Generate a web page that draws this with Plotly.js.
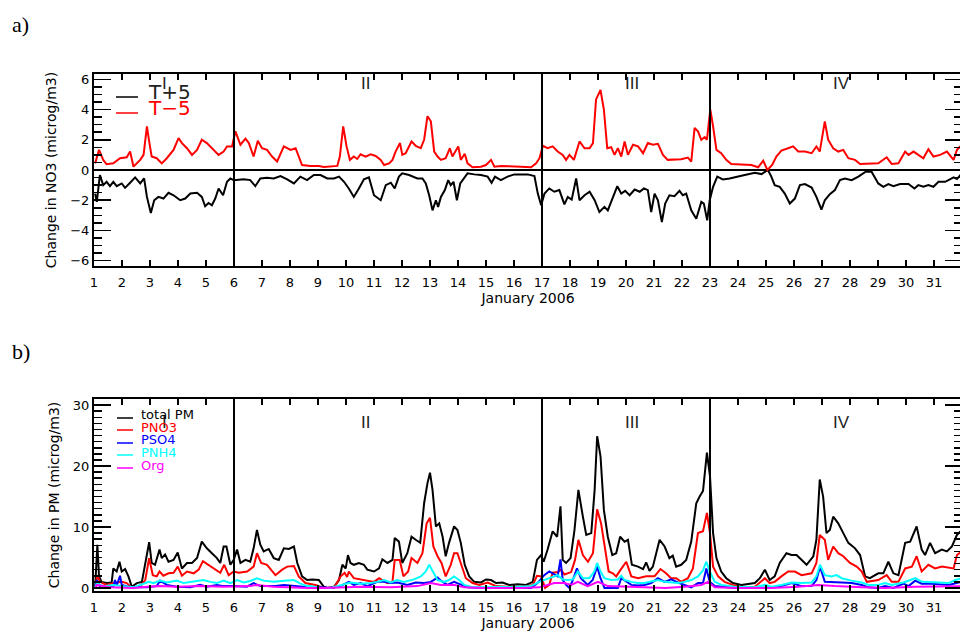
<!DOCTYPE html>
<html>
<head>
<meta charset="utf-8">
<script src="https://cdn.plot.ly/plotly-3.0.1.min.js"></script>
<style>
  html, body { margin: 0; padding: 0; background: #ffffff; overflow: hidden; }
  #chart { width: 964px; height: 631px; }
</style>
</head>
<body>
<div id="chart"></div>
<script>
// ---------- tick labels / categories ----------
const dayTicks = [1,2,3,4,5,6,7,8,9,10,11,12,13,14,15,16,17,18,19,20,21,22,23,24,25,26,27,28,29,30,31,32];
const dayLabels = ['1','2','3','4','5','6','7','8','9','10','11','12','13','14','15','16','17','18','19','20','21','22','23','24','25','26','27','28','29','30','31','1'];
const sectionBounds = [6, 17, 23];
const sectionNames = ['I', 'II', 'III', 'IV'];
const sectionLabelDays = [3.53, 10.7, 20.2, 27.7];

// ---------- panel a: change in NO3 ----------
const tPlusDays = [
  1.04,1.10,1.21,1.33,1.45,1.57,1.69,1.81,1.99,2.11,
  2.29,2.47,2.65,2.79,2.89,3.03,3.15,3.30,3.48,3.66,
  3.84,4.08,4.26,4.44,4.68,4.85,4.97,5.09,5.21,5.33,
  5.45,5.61,5.75,5.87,5.99,6.35,6.58,6.76,6.94,7.18,
  7.42,7.66,7.90,8.14,8.37,8.61,8.85,9.09,9.33,9.57,
  9.75,9.93,10.10,10.28,10.46,10.64,10.82,11.00,11.24,11.42,
  11.60,11.74,11.89,12.01,12.25,12.55,12.73,12.85,12.97,13.09,
  13.21,13.29,13.39,13.53,13.65,13.74,13.84,13.96,14.08,14.22,
  14.34,14.58,14.82,15.06,15.20,15.32,15.53,15.77,16.01,16.49,
  16.73,16.85,16.97,17.09,17.26,17.44,17.62,17.80,17.92,18.06,
  18.22,18.34,18.52,18.70,18.88,19.05,19.23,19.35,19.53,19.69,
  19.83,19.97,20.13,20.31,20.49,20.64,20.78,20.90,21.02,21.14,
  21.28,21.40,21.55,21.73,21.91,22.03,22.15,22.33,22.51,22.69,
  22.78,22.90,22.99,23.11,23.26,23.46,23.70,23.94,24.24,24.60,
  24.84,25.07,25.19,25.31,25.49,25.67,25.85,26.03,26.21,26.39,
  26.63,26.80,26.98,27.10,27.28,27.46,27.64,27.82,28.06,28.30,
  28.56,28.77,29.01,29.19,29.37,29.55,29.79,30.09,30.30,30.44,
  30.62,30.80,30.98,31.16,31.40,31.70,31.82,32.00
];
const tPlusNO3 = [
  -1.56,-2.11,-0.33,-1.00,-0.78,-1.07,-0.78,-1.07,-0.89,-1.18,
  -0.84,-0.49,-0.89,-0.56,-1.78,-2.84,-2.00,-1.78,-1.89,-1.51,
  -1.67,-2.00,-1.89,-1.56,-1.51,-1.78,-2.40,-2.18,-2.33,-1.89,
  -1.22,-1.67,-0.78,-0.56,-0.67,-0.62,-0.67,-1.07,-0.56,-0.51,
  -0.56,-0.40,-0.62,-0.89,-0.44,-0.67,-0.33,-0.33,-0.56,-0.56,
  -0.44,-0.78,-1.22,-1.78,-1.22,-0.62,-0.49,-1.67,-2.00,-1.00,
  -0.84,-1.22,-0.44,-0.22,-0.33,-0.56,-0.56,-0.89,-1.67,-2.67,
  -2.00,-2.44,-1.78,-1.33,-0.67,-1.00,-0.78,-2.00,-0.89,-0.56,
  -0.22,-0.29,-0.33,-0.44,-0.84,-0.44,-0.67,-0.44,-0.29,-0.29,
  -0.40,-1.56,-2.33,-1.56,-1.22,-1.44,-1.33,-2.27,-1.78,-1.96,
  -0.56,-2.00,-1.67,-1.44,-2.00,-2.78,-2.44,-2.67,-1.89,-1.07,
  -1.56,-1.38,-1.67,-1.29,-1.44,-1.22,-1.33,-2.78,-1.56,-2.00,
  -3.44,-2.22,-1.67,-1.73,-1.38,-1.67,-1.56,-2.67,-3.22,-2.11,
  -2.22,-3.33,-2.00,-1.11,-0.44,-0.62,-0.56,-0.44,-0.33,-0.18,
  -0.27,0.00,-0.44,-1.00,-1.11,-1.56,-2.22,-1.89,-1.00,-0.93,
  -1.16,-1.78,-2.62,-2.00,-1.60,-1.33,-0.67,-0.56,-0.67,-0.44,
  -0.11,-0.11,-0.89,-1.11,-0.93,-1.07,-0.93,-0.93,-1.22,-1.00,
  -1.11,-1.00,-1.11,-0.78,-0.78,-0.49,-0.60,-0.22
];

const tMinusDays = [
  1.04,1.18,1.33,1.45,1.69,1.93,2.17,2.29,2.41,2.65,
  2.77,2.89,2.97,3.06,3.24,3.42,3.60,3.84,4.02,4.14,
  4.32,4.50,4.68,4.85,5.03,5.27,5.45,5.63,5.75,5.93,
  6.05,6.23,6.41,6.53,6.70,6.85,7.00,7.18,7.36,7.54,
  7.78,8.02,8.20,8.43,8.73,9.03,9.21,9.69,9.78,9.90,
  10.02,10.14,10.28,10.40,10.52,10.70,10.88,11.06,11.24,11.36,
  11.54,11.66,11.77,11.93,12.01,12.13,12.34,12.49,12.67,12.79,
  12.91,13.03,13.15,13.27,13.39,13.56,13.71,13.80,13.89,14.01,
  14.10,14.24,14.34,14.52,14.82,15.00,15.18,15.30,15.53,15.89,
  16.25,16.61,16.79,16.91,17.03,17.20,17.38,17.56,17.74,17.86,
  17.98,18.14,18.34,18.52,18.70,18.82,18.93,19.09,19.21,19.33,
  19.47,19.59,19.71,19.83,19.95,20.07,20.25,20.43,20.61,20.78,
  20.96,21.14,21.32,21.49,21.97,22.21,22.33,22.45,22.57,22.69,
  22.81,22.89,23.01,23.11,23.23,23.40,23.58,23.76,24.12,24.48,
  24.72,24.90,25.05,25.22,25.37,25.55,25.79,25.97,26.15,26.39,
  26.63,26.80,26.92,27.10,27.22,27.40,27.58,27.76,27.94,28.18,
  28.36,28.65,29.01,29.31,29.49,29.73,29.97,30.09,30.27,30.44,
  30.62,30.80,30.98,31.22,31.46,31.70,31.82,32.00
];
const tMinusNO3 = [
  0.44,1.33,0.67,0.38,0.44,0.78,0.84,1.22,0.22,0.67,
  1.00,2.89,1.89,0.89,0.78,0.44,0.78,1.33,2.11,1.78,
  1.44,1.00,1.33,2.00,1.78,1.33,1.00,1.22,1.56,1.56,
  2.56,1.67,2.07,1.78,0.89,1.93,1.44,1.33,0.89,0.56,
  1.56,1.33,1.44,0.33,0.27,0.27,0.20,0.27,0.89,2.89,
  1.56,0.67,0.89,0.73,1.04,0.89,1.04,0.93,0.67,0.33,
  0.44,0.67,1.22,1.78,1.00,1.11,1.89,1.60,1.44,2.00,
  3.56,3.22,1.22,0.89,0.67,0.78,1.44,0.89,1.22,1.56,
  0.67,1.07,0.44,0.18,0.22,0.33,0.67,0.22,0.27,0.22,
  0.22,0.18,0.44,0.78,1.60,1.44,1.56,1.22,1.00,0.67,
  1.00,0.67,1.89,1.44,1.44,1.78,4.67,5.29,4.00,1.44,
  1.51,1.00,1.44,0.89,1.89,1.00,1.67,1.56,1.11,1.78,
  1.67,1.73,1.00,0.67,0.71,0.82,0.56,2.78,2.56,2.00,
  2.18,2.00,4.00,2.89,1.33,1.11,0.67,0.40,0.38,0.33,
  0.18,0.62,0.00,0.33,0.89,1.29,1.44,1.56,1.22,1.22,
  1.11,1.56,1.22,3.22,2.00,1.44,1.22,1.33,0.78,0.67,
  0.40,0.40,0.44,0.84,0.40,0.44,1.22,1.00,1.22,1.00,
  0.78,1.38,0.89,1.00,1.22,0.67,1.33,1.67
];

// ---------- panel b: change in PM ----------
const totalDays = [
  1.04,1.12,1.18,1.27,1.45,1.63,1.69,1.81,1.91,1.99,
  2.11,2.23,2.35,2.53,2.71,2.83,2.97,3.06,3.18,3.34,
  3.42,3.54,3.66,3.84,3.99,4.14,4.32,4.50,4.68,4.85,
  5.03,5.21,5.39,5.51,5.63,5.73,5.87,5.99,6.11,6.23,
  6.41,6.58,6.70,6.82,6.94,7.06,7.24,7.42,7.60,7.78,
  7.96,8.14,8.26,8.43,8.61,8.79,9.03,9.21,9.33,9.57,
  9.75,9.87,9.99,10.07,10.16,10.28,10.46,10.64,10.76,11.00,
  11.18,11.30,11.48,11.66,11.74,11.89,12.01,12.19,12.34,12.49,
  12.65,12.79,12.91,13.00,13.09,13.21,13.33,13.45,13.56,13.68,
  13.86,13.98,14.10,14.24,14.40,14.58,14.82,15.00,15.18,15.36,
  15.59,15.83,16.13,16.43,16.67,16.82,16.97,17.06,17.20,17.38,
  17.54,17.66,17.74,17.86,18.02,18.16,18.30,18.46,18.58,18.76,
  18.88,18.97,19.09,19.21,19.35,19.51,19.65,19.79,19.95,20.07,
  20.21,20.43,20.61,20.72,20.84,20.96,21.20,21.38,21.55,21.67,
  21.79,21.97,22.15,22.33,22.51,22.63,22.75,22.89,23.00,23.11,
  23.23,23.40,23.58,23.82,24.12,24.60,24.78,24.96,25.13,25.31,
  25.49,25.73,25.91,26.09,26.27,26.45,26.69,26.80,26.92,27.04,
  27.16,27.28,27.40,27.58,27.76,27.94,28.18,28.36,28.54,28.71,
  29.01,29.19,29.37,29.55,29.73,29.97,30.15,30.38,30.56,30.68,
  30.86,31.04,31.28,31.46,31.64,31.82,32.00
];
const totalPM = [
  0.0,7.1,1.9,1.0,0.8,0.9,3.2,2.7,4.3,2.7,
  3.1,1.9,0.2,0.8,1.0,4.1,7.5,4.1,3.8,6.3,
  4.9,5.5,4.3,4.6,5.8,3.2,4.1,4.1,4.9,7.6,
  6.5,5.7,4.9,4.1,6.8,6.8,3.8,4.6,6.3,4.1,
  4.6,4.3,6.5,9.5,7.1,6.0,6.4,4.9,4.6,6.5,
  6.4,6.8,4.1,1.9,1.3,1.4,1.3,0.2,0.0,0.2,
  1.3,3.8,3.2,5.4,4.1,3.8,4.1,3.8,3.0,2.7,
  3.2,4.7,4.1,4.6,8.2,7.6,4.1,5.7,8.4,7.9,
  7.4,13.9,17.2,18.9,16.1,10.1,10.6,8.4,5.2,7.4,
  10.1,9.5,7.4,3.8,1.9,1.0,0.9,1.4,1.3,0.8,
  0.9,0.5,0.6,0.5,1.0,4.6,5.4,4.3,6.3,9.3,
  8.4,13.4,4.6,4.1,4.9,9.5,16.1,11.7,8.7,9.0,
  16.1,24.9,21.6,12.8,8.4,5.4,5.7,8.4,7.6,7.9,
  3.8,3.5,3.1,4.2,2.8,3.5,7.9,6.8,4.9,5.3,
  3.5,3.8,4.6,7.6,13.9,15.0,15.9,22.2,18.3,9.0,
  4.9,2.7,1.6,0.8,0.5,0.8,1.6,3.0,1.3,1.9,
  4.1,5.7,5.4,5.4,4.6,3.8,5.2,7.9,17.8,15.0,
  9.0,9.5,11.7,10.6,9.0,7.4,6.5,5.4,1.9,1.6,
  2.4,2.4,4.3,2.4,2.1,7.4,7.6,10.1,6.3,5.4,
  7.4,5.7,6.3,6.0,6.8,8.7,9.5
];

const pno3Days = [
  1.04,1.12,1.21,1.45,1.69,1.99,2.17,2.35,2.65,2.83,
  2.97,3.10,3.24,3.34,3.48,3.66,3.84,3.99,4.14,4.32,
  4.56,4.74,4.89,5.09,5.33,5.51,5.65,5.81,5.99,6.17,
  6.47,6.70,6.82,6.97,7.18,7.48,7.72,7.90,8.14,8.31,
  8.55,8.91,9.21,9.57,9.81,9.95,10.04,10.10,10.28,10.64,
  11.00,11.18,11.48,11.66,11.74,11.92,12.05,12.22,12.34,12.55,
  12.73,12.88,13.00,13.12,13.27,13.41,13.56,13.74,13.86,13.98,
  14.13,14.28,14.52,14.76,15.06,15.36,15.77,16.25,16.67,16.82,
  16.97,17.11,17.26,17.38,17.56,17.68,17.80,18.04,18.18,18.30,
  18.46,18.64,18.82,18.97,19.11,19.23,19.38,19.53,19.65,19.81,
  20.01,20.19,20.43,20.72,21.02,21.23,21.43,21.61,21.79,21.97,
  22.21,22.39,22.57,22.75,22.89,23.00,23.11,23.29,23.52,23.82,
  24.12,24.60,24.96,25.13,25.31,25.55,25.79,26.03,26.27,26.63,
  26.80,26.92,27.10,27.22,27.40,27.58,27.76,28.00,28.24,28.42,
  28.60,29.01,29.31,29.49,29.73,29.97,30.21,30.38,30.56,30.80,
  31.04,31.28,31.70,31.82,32.00
];
const pno3 = [
  0.0,2.1,1.0,0.5,0.8,1.0,0.8,0.0,0.3,1.3,
  4.9,2.1,1.9,2.7,2.0,2.4,2.5,3.5,2.0,2.7,
  2.4,3.0,4.4,3.8,3.0,2.5,3.8,2.1,2.7,2.5,
  2.7,3.5,5.7,4.1,3.8,2.1,3.0,3.5,3.6,1.9,
  0.8,0.5,0.0,0.0,1.9,2.5,1.8,2.7,1.6,1.3,
  1.0,1.6,0.8,1.0,4.6,4.6,1.9,2.7,4.9,4.1,
  5.7,10.6,11.5,6.8,5.2,4.1,1.9,3.8,5.7,5.7,
  3.8,1.6,0.8,0.5,0.9,0.3,0.2,0.1,0.5,2.0,
  1.9,0.0,0.5,2.5,2.6,3.0,2.2,2.6,4.6,7.9,
  5.4,4.3,5.7,12.9,10.6,6.8,2.7,2.4,1.9,3.0,
  4.3,1.9,1.6,1.9,1.9,3.1,2.4,1.6,1.6,1.0,
  1.6,3.2,9.0,9.3,12.3,9.0,3.5,1.9,1.0,0.5,
  0.1,0.2,1.6,0.8,1.0,1.9,2.7,2.7,2.1,2.4,
  4.1,8.7,7.9,4.6,6.8,5.7,5.2,4.1,3.5,2.7,
  1.0,1.3,2.1,1.0,1.0,3.2,3.5,5.2,2.7,3.8,
  3.2,3.5,3.2,5.4,6.0
];

const pso4Days = [
  1.04,1.10,1.20,1.45,1.69,1.75,1.81,1.93,1.99,2.17,
  2.41,2.89,3.24,3.36,3.48,3.60,3.96,4.44,4.79,5.03,
  5.39,5.63,5.99,6.46,6.70,6.94,7.42,7.78,8.26,8.61,
  9.09,9.45,9.80,10.10,10.28,10.52,10.76,11.12,11.36,11.60,
  11.83,12.19,12.49,12.79,13.03,13.27,13.39,13.62,13.86,14.10,
  14.34,14.90,15.53,16.25,16.60,16.84,17.08,17.26,17.44,17.56,
  17.66,17.74,17.86,17.98,18.10,18.25,18.39,18.63,18.81,18.97,
  19.09,19.23,19.47,19.71,19.83,20.01,20.19,20.43,20.66,20.90,
  21.14,21.38,21.61,21.85,22.09,22.33,22.57,22.75,22.87,22.99,
  23.17,23.53,23.88,24.60,24.96,25.20,25.55,25.91,26.27,26.63,
  26.80,26.93,27.10,27.34,27.70,28.06,28.42,28.66,29.01,29.25,
  29.55,29.91,30.09,30.33,30.56,30.92,31.52,32.00
];
const pso4 = [
  0.2,1.3,0.3,0.2,0.2,1.3,0.4,2.0,0.5,0.3,
  0.1,0.1,0.3,1.2,0.9,0.5,0.2,0.1,0.5,0.2,
  0.5,0.3,0.3,0.2,0.8,0.3,0.3,0.5,0.3,0.1,
  0.1,0.0,0.3,1.0,0.5,0.8,0.3,1.0,1.0,0.8,
  0.9,0.5,0.9,0.8,1.0,1.7,1.2,0.5,1.0,0.5,
  0.1,0.0,0.0,0.0,0.0,0.8,2.1,2.7,2.3,1.9,
  4.7,1.3,0.5,0.0,1.3,3.2,1.6,0.5,1.3,3.5,
  1.6,0.0,0.0,0.0,1.6,1.0,0.5,0.4,0.5,0.8,
  1.6,1.0,1.4,0.9,0.5,0.1,0.8,0.8,3.2,1.0,
  0.3,0.1,0.0,0.0,0.0,0.1,0.3,0.8,0.3,0.3,
  1.3,3.5,1.0,1.0,0.9,0.8,0.5,0.1,0.0,0.3,
  0.0,0.7,0.3,1.2,0.7,0.7,0.5,1.0
];

const pnh4Days = [
  1.04,1.10,1.33,1.69,2.05,2.41,2.77,2.95,3.12,3.36,
  3.60,3.96,4.20,4.44,4.79,4.91,5.15,5.39,5.63,5.87,
  6.11,6.35,6.58,6.82,7.06,7.42,7.78,8.14,8.37,8.61,
  8.73,9.09,9.45,9.80,10.16,10.52,10.88,11.12,11.36,11.60,
  11.83,12.07,12.43,12.67,12.85,12.97,13.09,13.27,13.50,13.68,
  13.86,14.04,14.22,14.46,14.94,15.53,16.01,16.60,16.90,17.08,
  17.32,17.56,17.74,17.92,18.10,18.28,18.46,18.69,18.87,18.97,
  19.09,19.23,19.47,19.71,19.83,19.95,20.19,20.42,20.66,20.90,
  21.14,21.38,21.62,21.86,22.09,22.33,22.57,22.75,22.87,22.99,
  23.17,23.41,23.88,24.60,24.96,25.20,25.55,25.91,26.27,26.63,
  26.80,26.93,27.10,27.34,27.52,27.70,28.06,28.42,28.66,29.01,
  29.25,29.49,29.91,30.09,30.33,30.57,30.80,31.16,31.52,31.76,
  32.00
];
const pnh4 = [
  0.0,0.8,0.3,0.5,0.3,0.1,0.7,1.0,0.8,1.2,
  0.9,1.2,0.8,1.0,1.2,1.3,1.0,0.8,1.2,0.8,
  1.3,0.9,1.15,1.6,1.2,1.0,1.2,1.3,0.7,0.3,
  0.3,0.0,0.0,0.5,0.9,0.7,0.8,1.0,1.3,0.9,
  1.3,1.0,1.4,1.9,2.7,3.8,2.7,1.3,1.0,1.3,
  1.9,1.3,0.5,0.2,0.1,0.2,0.1,0.3,1.0,1.3,
  1.6,2.1,1.4,1.3,1.4,2.7,1.6,1.6,2.7,4.1,
  2.7,1.6,1.3,1.4,2.0,1.3,1.0,0.8,0.8,1.0,
  1.3,1.0,0.9,0.8,1.0,1.3,1.9,2.9,4.3,2.7,
  1.0,0.5,0.2,0.1,0.5,0.2,0.5,0.9,0.8,0.9,
  1.9,3.8,2.1,1.9,2.1,1.6,1.2,0.9,0.5,0.5,
  0.8,0.5,0.9,1.2,1.6,1.0,1.0,0.9,0.8,1.3,
  1.6
];

const orgDays = [
  1.04,1.10,1.57,2.41,2.89,3.36,3.96,4.79,5.63,6.58,
  6.82,7.42,8.61,9.21,10.52,11.60,12.55,13.03,13.39,13.86,
  14.22,14.94,16.25,16.90,17.44,17.80,18.04,18.28,18.63,19.00,
  19.35,19.83,20.66,21.40,22.09,22.69,22.93,23.17,24.00,25.20,
  26.15,26.87,27.46,28.42,29.25,30.33,31.16,32.00
];
const org = [
  0.0,0.5,0.1,0.0,0.2,0.3,0.2,0.3,0.2,0.3,
  0.5,0.2,0.0,0.0,0.2,0.1,0.3,0.8,0.5,0.5,
  0.1,0.0,0.0,0.1,0.8,0.8,0.5,1.0,0.3,1.0,
  0.3,0.2,0.1,0.0,0.2,0.5,1.0,0.1,0.0,0.0,
  0.2,0.5,0.3,0.1,0.0,0.2,0.2,0.3
];

// ---------- drawing ----------
const W = 964, H = 631;
const px = v => v / W;
const py = v => 1 - v / H;
const FONT = 'DejaVu Sans, Liberation Sans, Arial, sans-serif';

function line(x, y, color, name, xa, ya) {
  return {type: 'scatter', mode: 'lines', x: x, y: y, name: name,
          xaxis: xa, yaxis: ya, line: {color: color, width: 2}, hoverinfo: 'skip'};
}

const traces = [
  line(tPlusDays, tPlusNO3, '#000000', 'T+5', 'x', 'y'),
  line(tMinusDays, tMinusNO3, '#ff0000', 'T-5', 'x', 'y'),
  line(totalDays, totalPM, '#000000', 'total PM', 'x2', 'y2'),
  line(pno3Days, pno3, '#ff0000', 'PNO3', 'x2', 'y2'),
  line(pso4Days, pso4, '#0000ff', 'PSO4', 'x2', 'y2'),
  line(pnh4Days, pnh4, '#00ffff', 'PNH4', 'x2', 'y2'),
  line(orgDays, org, '#ff00ff', 'Org', 'x2', 'y2')
];

function xAxis(anchor) {
  return {
    domain: [px(94), px(962)], range: [1, 32], anchor: anchor,
    tickmode: 'array', tickvals: dayTicks, ticktext: dayLabels,
    ticks: 'inside', ticklen: 6, tickwidth: 1.5, tickcolor: '#000',
    ticklabelstandoff: 3,
    showline: true, linewidth: 2, linecolor: '#000', mirror: 'ticks',
    showgrid: false, zeroline: false,
    tickfont: {family: FONT, size: 13, color: '#000'},
    title: {text: 'January 2006', font: {family: FONT, size: 14, color: '#000'}, standoff: 2}
  };
}
function yAxis(anchor, top, bottom, range, dtick, minorDtick, zl, title) {
  return {
    domain: [py(bottom), py(top)], range: range, anchor: anchor,
    tick0: 0, dtick: dtick,
    ticks: 'inside', ticklen: 17, tickwidth: 1.5, tickcolor: '#000',
    minor: {dtick: minorDtick, tick0: 0, ticks: 'inside', ticklen: 8, tickwidth: 1.5, tickcolor: '#000', showgrid: false},
    showline: true, linewidth: 2, linecolor: '#000', mirror: 'ticks',
    showgrid: false, zeroline: zl, zerolinecolor: '#000', zerolinewidth: 2,
    tickfont: {family: FONT, size: 13, color: '#000'},
    title: {text: title, font: {family: FONT, size: 14, color: '#000'}, standoff: 10}
  };
}

const shapes = [];
sectionBounds.forEach(d => {
  shapes.push({type: 'line', xref: 'x', yref: 'y domain', x0: d, x1: d, y0: 0, y1: 1, line: {color: '#000', width: 2}});
  shapes.push({type: 'line', xref: 'x2', yref: 'y2 domain', x0: d, x1: d, y0: 0, y1: 1, line: {color: '#000', width: 2}});
});

const annotations = [];
sectionNames.forEach((s, i) => {
  annotations.push({xref: 'x', yref: 'y', x: sectionLabelDays[i], y: 5.75, text: s, showarrow: false,
    font: {family: 'Liberation Sans, Arial, sans-serif', size: 17, color: '#222'}});
  annotations.push({xref: 'x2', yref: 'y2', x: sectionLabelDays[i], y: 27.2, text: s, showarrow: false,
    font: {family: 'Liberation Sans, Arial, sans-serif', size: 17, color: '#222'}});
});

// panel labels
annotations.push({xref: 'paper', yref: 'paper', x: px(10), y: py(24), xanchor: 'left', yanchor: 'middle',
  text: 'a)', showarrow: false, font: {family: 'Liberation Serif, Times New Roman, serif', size: 22, color: '#000'}});
annotations.push({xref: 'paper', yref: 'paper', x: px(10), y: py(351), xanchor: 'left', yanchor: 'middle',
  text: 'b)', showarrow: false, font: {family: 'Liberation Serif, Times New Roman, serif', size: 22, color: '#000'}});

// legends (drawn as annotations + line samples, using trace names and colours)
const topLegend = [[0, 97, 92, '#222222'], [1, 113, 108, '#ff0000']];
topLegend.forEach(([ti, ly, ty, tc]) => {
  shapes.push({type: 'line', xref: 'paper', yref: 'paper', x0: px(116), x1: px(138), y0: py(ly), y1: py(ly),
    line: {color: traces[ti].line.color, width: 1.5}});
  annotations.push({xref: 'paper', yref: 'paper', x: px(146), y: py(ty), xanchor: 'left', yanchor: 'middle',
    text: traces[ti].name.replace('-', '\u2212'), showarrow: false, font: {family: FONT, size: 20, color: tc}});
});
const botLegend = [[2, 418, 414], [3, 430, 427], [4, 443, 439], [5, 455, 452], [6, 468, 465]];
botLegend.forEach(([ti, ly, ty]) => {
  shapes.push({type: 'line', xref: 'paper', yref: 'paper', x0: px(117), x1: px(133), y0: py(ly), y1: py(ly),
    line: {color: traces[ti].line.color, width: 1.5}});
  annotations.push({xref: 'paper', yref: 'paper', x: px(139), y: py(ty), xanchor: 'left', yanchor: 'middle',
    text: traces[ti].name, showarrow: false, font: {family: FONT, size: 13, color: traces[ti].line.color}});
});

const layout = {
  width: W, height: H,
  margin: {l: 0, r: 0, t: 0, b: 0},
  paper_bgcolor: '#fff', plot_bgcolor: '#fff',
  showlegend: false,
  xaxis: xAxis('y'),
  yaxis: yAxis('x', 74, 266, [-6.35, 6.35], 2, 0.5, true, 'Change in NO3 (microg/m3)'),
  xaxis2: xAxis('y2'),
  yaxis2: yAxis('x2', 399, 591, [-0.5, 31], 10, 1, false, 'Change in PM (microg/m3)'),
  shapes: shapes,
  annotations: annotations
};

Plotly.newPlot('chart', traces, layout, {staticPlot: true, displayModeBar: false});
</script>
</body>
</html>
